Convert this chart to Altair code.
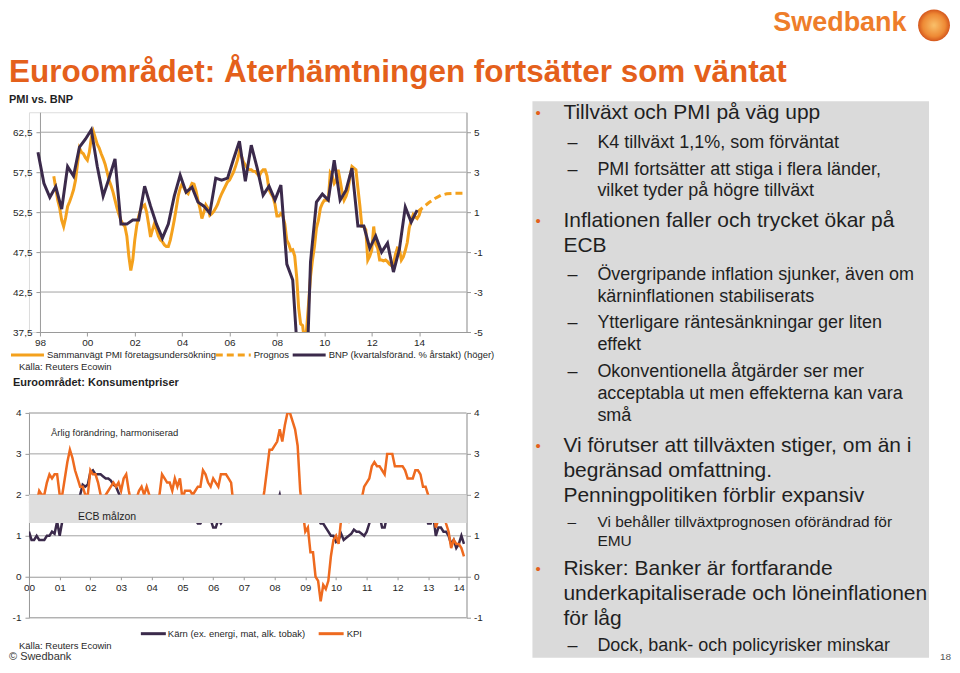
import altair as alt
import pandas as pd

FONT = "Liberation Sans"
TXT = "#1f1f1f"
AX = "#9a9a9a"
GRID = "#a3a3a3"
PMI_C = "#F4A11D"
BNP_C = "#3B2A4B"
KPI_C = "#EE6A1F"
CORE_C = "#3B2A4B"
BAND_C = "#DEDEDE"
TITLE_C = "#E4601B"
LOGO_C = "#EE7D2A"
PANEL_C = "#DADADA"

# ---------------- data: PMI vs BNP ----------------
# Composite PMI, monthly, Jul 1998 .. Jan 2014
pmi_1998 = [57.0, 55.5, 54.0, 53.0, 51.5, 50.7]
pmi_1999 = [51.8, 53.2, 53.8, 54.5, 55.3, 56.5, 58.5, 60.5, 60.0, 59.8, 59.3, 59.0]
pmi_2000 = [60.0, 61.8, 62.6, 61.8, 61.0, 60.5, 59.8, 59.2, 58.5, 57.5, 56.5, 55.8]
pmi_2001 = [55.0, 54.0, 53.0, 52.2, 51.5, 51.0, 50.7, 49.5, 47.0, 45.2, 46.5, 49.0]
pmi_2002 = [50.8, 52.0, 52.8, 53.2, 53.4, 52.5, 51.0, 49.4, 50.3, 51.1, 50.3, 49.5]
pmi_2003 = [49.0, 48.8, 48.4, 48.2, 48.2, 49.0, 50.2, 51.5, 53.0, 54.5, 55.5, 56.1]
pmi_2004 = [55.5, 55.0, 54.8, 55.5, 56.1, 56.0, 55.2, 54.0, 53.0, 51.7, 52.5, 53.4]
pmi_2005 = [53.0, 52.1, 52.3, 52.6, 53.0, 53.5, 54.2, 54.8, 55.3, 55.8, 56.3, 56.5]
pmi_2006 = [57.0, 57.5, 58.2, 59.0, 60.1, 59.5, 58.8, 58.4, 58.0, 57.8, 57.8, 57.6]
pmi_2007 = [57.6, 57.3, 57.0, 57.5, 57.8, 57.8, 57.0, 55.3, 54.8, 54.4, 53.5, 52.0]
pmi_2008 = [52.0, 52.3, 52.0, 51.0, 49.0, 48.5, 47.7, 47.8, 47.0, 44.4, 40.5, 38.5]
pmi_2009 = [38.3, 36.2, 37.8, 41.0, 44.4, 46.5, 48.2, 50.5, 51.5, 53.0, 53.6, 54.0]
pmi_2010 = [54.0, 54.0, 57.4, 57.0, 56.1, 56.5, 57.8, 56.5, 55.0, 54.0, 54.5, 55.3]
pmi_2011 = [57.0, 58.2, 58.0, 57.8, 55.5, 53.3, 50.7, 50.7, 50.3, 46.5, 47.0, 47.7]
pmi_2012 = [50.7, 48.5, 48.0, 46.5, 46.5, 46.4, 46.5, 46.3, 46.0, 45.8, 46.0, 47.2]
pmi_2013 = [48.0, 47.9, 46.5, 46.9, 47.7, 48.7, 50.5, 51.5, 52.2, 51.9, 51.7, 52.1]
pmi_2014 = [52.9]
pmi_values = (pmi_1998 + pmi_1999 + pmi_2000 + pmi_2001 + pmi_2002 + pmi_2003 +
              pmi_2004 + pmi_2005 + pmi_2006 + pmi_2007 + pmi_2008 + pmi_2009 +
              pmi_2010 + pmi_2011 + pmi_2012 + pmi_2013 + pmi_2014)

# Forecast (Prognos), quarterly from Q4 2013
prognos_times = [2013.917, 2014.167, 2014.417, 2014.667, 2014.917, 2015.167, 2015.417, 2015.667, 2016.0]
prognos_values = [52.5, 53.1, 53.7, 54.2, 54.6, 54.8, 54.85, 54.85, 54.85]

# BNP, q/q annualised %, quarterly 1997Q4 .. 2013Q4
bnp_values = [4.0,
              2.44, 1.74, 2.27, 1.15,
              3.28, 2.81, 4.25, 4.65,
              5.12, 3.3, 1.8, 2.7,
              3.66, 0.4, 0.4, 0.6,
              0.6, 2.3, 1.3, 0.4,
              -0.3, 0.4, 1.8, 2.85,
              2.0, 2.25, 1.5, 1.3,
              0.95, 2.7, 2.6, 2.7,
              3.65, 4.55, 2.55, 4.35,
              3.2, 1.85, 2.3, 1.6,
              2.35, -1.6, -2.4, -7.0,
              -10.5, -1.5, 1.5, 1.9,
              1.6, 3.6, 1.6, 2.1,
              3.2, 0.3, 0.3, -0.8,
              -0.2, -1.0, -0.55, -2.0,
              -0.85, 1.25, 0.5, 1.1]

# ---------------- data: consumer prices ----------------
kpi_values = [
    1.8, 1.9, 1.9, 1.8, 2.1, 2.0, 2.0, 2.3, 2.5, 2.4, 2.5, 2.5,   # 2000
    2.0, 2.0, 2.4, 2.8, 3.1, 2.9, 2.6, 2.4, 2.2, 2.2, 2.0, 2.0,   # 2001
    2.6, 2.5, 2.5, 2.3, 2.0, 1.8, 2.0, 2.1, 2.2, 2.3, 2.2, 2.3,   # 2002
    2.1, 2.4, 2.5, 2.1, 1.8, 1.9, 1.9, 2.1, 2.2, 2.0, 2.2, 2.0,   # 2003
    1.9, 1.6, 1.7, 2.0, 2.5, 2.4, 2.3, 2.3, 2.1, 2.4, 2.2, 2.4,   # 2004
    1.9, 2.1, 2.1, 2.1, 2.0, 2.1, 2.2, 2.2, 2.6, 2.5, 2.3, 2.2,   # 2005
    2.4, 2.3, 2.2, 2.5, 2.5, 2.5, 2.4, 2.3, 1.7, 1.6, 1.9, 1.9,   # 2006
    1.8, 1.8, 1.9, 1.9, 1.9, 1.9, 1.8, 1.7, 2.1, 2.6, 3.1, 3.1,   # 2007
    3.2, 3.3, 3.6, 3.3, 3.7, 4.0, 4.0, 3.8, 3.6, 3.2, 2.1, 1.6,   # 2008
    1.1, 1.2, 0.6, 0.6, 0.0, -0.1, -0.6, -0.2, -0.3, -0.1, 0.5, 0.9,  # 2009
    1.0, 0.8, 1.4, 1.5, 1.6, 1.4, 1.7, 1.6, 1.8, 1.9, 1.9, 2.2,   # 2010
    2.3, 2.4, 2.7, 2.8, 2.7, 2.7, 2.6, 2.5, 3.0, 3.0, 3.0, 2.7,   # 2011
    2.7, 2.7, 2.7, 2.6, 2.4, 2.4, 2.4, 2.6, 2.6, 2.5, 2.2, 2.2,   # 2012
    2.0, 1.8, 1.7, 1.2, 1.4, 1.6, 1.6, 1.3, 1.1, 0.7, 0.9, 0.8,   # 2013
    0.8, 0.7, 0.5]                                                # 2014
karn_values = [
    1.1, 0.9, 0.9, 1.0, 0.9, 0.9, 0.9, 1.0, 1.0, 1.1, 1.05, 1.35,  # 2000
    1.0, 1.35, 1.4, 1.5, 1.7, 1.8, 1.9, 1.9, 2.0, 2.25, 2.2, 2.25, # 2001
    2.55, 2.6, 2.5, 2.5, 2.5, 2.45, 2.4, 2.4, 2.35, 2.25, 2.2, 2.05,  # 2002
    1.9, 1.8, 1.8, 1.9, 1.7, 1.8, 1.8, 1.8, 1.8, 1.7, 1.7, 1.7,   # 2003
    1.7, 1.7, 1.8, 1.7, 1.8, 1.9, 1.9, 1.9, 1.8, 1.8, 1.8, 1.8,   # 2004
    1.6, 1.5, 1.6, 1.5, 1.5, 1.4, 1.3, 1.3, 1.4, 1.5, 1.5, 1.4,   # 2005
    1.2, 1.2, 1.4, 1.3, 1.4, 1.5, 1.5, 1.5, 1.5, 1.5, 1.6, 1.6,   # 2006
    1.8, 1.8, 1.9, 1.9, 1.9, 1.9, 1.9, 1.9, 1.9, 1.9, 1.9, 1.9,   # 2007
    1.8, 1.8, 2.0, 1.7, 1.8, 1.8, 1.7, 1.8, 1.8, 1.8, 1.8, 1.7,   # 2008
    1.5, 1.6, 1.5, 1.7, 1.5, 1.4, 1.3, 1.3, 1.2, 1.1, 1.0, 1.0,   # 2009
    0.85, 0.9, 1.05, 0.9, 0.95, 1.0, 1.05, 1.15, 1.1, 1.1, 1.05, 1.0,  # 2010
    1.1, 1.3, 1.5, 1.6, 1.5, 1.5, 1.2, 1.2, 1.5, 1.6, 1.6, 1.6,   # 2011
    1.5, 1.5, 1.6, 1.6, 1.6, 1.6, 1.7, 1.7, 1.5, 1.5, 1.4, 1.5,   # 2012
    1.3, 1.3, 1.5, 1.0, 1.2, 1.2, 1.1, 1.1, 1.0, 0.8, 0.9, 0.7,   # 2013
    0.8, 1.0, 0.8]                                                # 2014
ecb_band = [1.31, 2.0]

pmi_ticks = [37.5, 42.5, 47.5, 52.5, 57.5, 62.5]
bnp_ticks = [-5, -3, -1, 1, 3, 5]
kpi_ticks = [-1, 0, 1, 2, 3, 4]


def monthly(start_year, start_month, values, shift):
    rows = []
    y, m = start_year, start_month
    for v in values:
        rows.append({"t": y + (m - 1 + shift) / 12.0, "v": v})
        m += 1
        if m > 12:
            m, y = 1, y + 1
    return pd.DataFrame(rows)


pmi_df = monthly(1998, 7, pmi_values, 1.0)
prog_df = pd.DataFrame({"t": prognos_times, "v": prognos_values})
bnp_rows = []
yy, qq = 1997, 4
for v in bnp_values:
    bnp_rows.append({"t": yy + (3 * qq - 1) / 12.0, "v": v})
    qq += 1
    if qq > 4:
        qq, yy = 1, yy + 1
bnp_df = pd.DataFrame(bnp_rows)
kpi_df = monthly(2000, 1, kpi_values, 0.0)
karn_df = monthly(2000, 1, karn_values, 0.0)

ONE = pd.DataFrame({"a": [0]})


def txt(text, x, y, size, color=TXT, weight="normal", align="left", baseline="middle"):
    return alt.Chart(ONE).mark_text(
        text=text, align=align, baseline=baseline, fontSize=size,
        fontWeight=weight, color=color, font=FONT
    ).encode(x=alt.value(x), y=alt.value(y))


def hline(x1, x2, y, color, width=3, dash=None):
    kw = dict(color=color, strokeWidth=width)
    if dash:
        kw["strokeDash"] = dash
    return alt.Chart(ONE).mark_rule(**kw).encode(
        x=alt.value(x1), x2=alt.value(x2), y=alt.value(y))


def box(x1, x2, y1, y2, color):
    return alt.Chart(ONE).mark_rect(color=color).encode(
        x=alt.value(x1), x2=alt.value(x2), y=alt.value(y1), y2=alt.value(y2))


axis_common = dict(title=None, grid=False, domainColor=AX, tickColor=AX,
                   labelFontSize=10, labelColor=TXT, labelFont=FONT,
                   labelFlush=False, labelOverlap=False)

# ---------------- chart 1 ----------------
W1, H1 = 438, 220
O1x, O1y = 28, 112  # page position of chart 1 plot origin
xs1 = alt.Scale(domain=[1998, 2016], range=[11, 438], nice=False, zero=False)
ys1 = alt.Scale(domain=[37.5, 65], nice=False, zero=False)
ys1r = alt.Scale(domain=[-5, 6], nice=False, zero=False)

x_axis1 = alt.Axis(values=list(range(1998, 2015, 2)), labelExpr="slice('' + datum.value, 2)",
                   tickSize=4, labelPadding=2, **axis_common)
y_axis1 = alt.Axis(values=pmi_ticks, labelExpr="replace(format(datum.value, '.1f'), '.', ',')",
                   orient="left", offset=-11, tickSize=4, labelPadding=4, **axis_common)
y_axis1r = alt.Axis(values=bnp_ticks, labelExpr="'' + datum.value", orient="right",
                    tickSize=4, labelPadding=3, **axis_common)

grid1 = pd.DataFrame({"v": pmi_ticks[1:], "t0": 1998, "t1": 2016})
g1 = alt.Chart(grid1).mark_rule(color=GRID, strokeWidth=1).encode(
    y=alt.Y("v:Q", scale=ys1, axis=y_axis1),
    x=alt.X("t0:Q", scale=xs1, axis=x_axis1), x2="t1:Q")
pmi_line = alt.Chart(pmi_df).mark_line(color=PMI_C, strokeWidth=3, clip=True).encode(
    x=alt.X("t:Q", scale=xs1, axis=x_axis1),
    y=alt.Y("v:Q", scale=ys1, axis=y_axis1))
prog_line = alt.Chart(prog_df).mark_line(color=PMI_C, strokeWidth=3, strokeDash=[7, 4], clip=True).encode(
    x=alt.X("t:Q", scale=xs1, axis=x_axis1),
    y=alt.Y("v:Q", scale=ys1, axis=y_axis1))
left1 = alt.layer(g1, pmi_line, prog_line)
bnp_line = alt.Chart(bnp_df).mark_line(color=BNP_C, strokeWidth=3, clip=True).encode(
    x=alt.X("t:Q", scale=xs1, axis=x_axis1),
    y=alt.Y("v:Q", scale=ys1r, axis=y_axis1r))


def p1(px, py):
    return px - O1x, py - O1y


ann1 = []
# slide title & logo
ann1.append(txt("Euroområdet: Återhämtningen fortsätter som väntat", *p1(8, 82), 31.5,
                color=TITLE_C, weight="bold", baseline="alphabetic"))
ann1.append(alt.Chart(ONE).mark_point(
    filled=True, shape="circle", size=1018, opacity=1,
    fill={"gradient": "radial", "stops": [{"offset": 0, "color": "#F9C06A"},
                                          {"offset": 0.7, "color": "#EE8A35"},
                                          {"offset": 1, "color": "#D4561C"}]},
    strokeWidth=0).encode(x=alt.value(p1(934, 25)[0]), y=alt.value(p1(934, 25)[1])))
ann1.append(txt("Swedbank", *p1(773, 23), 27, color=LOGO_C, weight="bold"))
ann1.append(txt("PMI vs. BNP", *p1(8, 100), 11, weight="bold"))
# legend
ly = 355
ann1.append(hline(p1(10, ly)[0], p1(43, ly)[0], p1(0, ly)[1], PMI_C))
ann1.append(txt("Sammanvägt PMI företagsundersökning", *p1(46, ly), 9.5))
ann1.append(hline(p1(215, ly)[0], p1(250, ly)[0], p1(0, ly)[1], PMI_C, dash=[7, 4]))
ann1.append(txt("Prognos", *p1(253, ly), 9.5))
ann1.append(hline(p1(292, ly)[0], p1(325, ly)[0], p1(0, ly)[1], BNP_C))
ann1.append(txt("BNP (kvartalsföränd. % årstakt) (höger)", *p1(328, ly), 9.5))
ann1.append(txt("Källa: Reuters Ecowin", *p1(18, 367), 9.5))

# right text panel
ann1.append(box(p1(532, 0)[0], p1(929, 0)[0], p1(0, 101)[1], p1(0, 658)[1], PANEL_C))
MAIN, SUB, SMALL = 21, 18, 15.5
panel = [
    ("b", "Tillväxt och PMI på väg upp", 113),
    ("d", "K4 tillväxt 1,1%, som förväntat", 143),
    ("d", "PMI fortsätter att stiga i flera länder,", 170),
    ("s", "vilket tyder på högre tillväxt", 191),
    ("b", "Inflationen faller och trycket ökar på", 221),
    ("m", "ECB", 246),
    ("d", "Övergripande inflation sjunker, även om", 275),
    ("s", "kärninflationen stabiliserats", 297),
    ("d", "Ytterligare räntesänkningar ger liten", 323),
    ("s", "effekt", 345),
    ("d", "Okonventionella åtgärder ser mer", 372),
    ("s", "acceptabla ut men effekterna kan vara", 394),
    ("s", "små", 416),
    ("b", "Vi förutser att tillväxten stiger, om än i", 446),
    ("m", "begränsad omfattning.", 471),
    ("m", "Penningpolitiken förblir expansiv", 496),
    ("e", "Vi behåller tillväxtprognosen oförändrad för", 522),
    ("f", "EMU", 541),
    ("b", "Risker: Banker är fortfarande", 569),
    ("m", "underkapitaliserade och löneinflationen", 594),
    ("m", "för låg", 619),
    ("d", "Dock, bank- och policyrisker minskar", 646),
]
for kind, text, py in panel:
    if kind in ("b", "m"):
        ann1.append(txt(text, *p1(563, py), MAIN))
        if kind == "b":
            ann1.append(txt("•", *p1(535, py), 15, color=TITLE_C))
    elif kind in ("d", "s"):
        ann1.append(txt(text, *p1(597, py), SUB))
        if kind == "d":
            ann1.append(txt("–", *p1(567, py), SUB))
    else:
        ann1.append(txt(text, *p1(597, py), SMALL))
        if kind == "e":
            ann1.append(txt("–", *p1(567, py), SMALL))

chart1 = alt.layer(left1, bnp_line, *ann1).resolve_scale(y="independent").properties(
    width=W1, height=H1)

# ---------------- chart 2 ----------------
W2, H2 = 438, 205
O2x, O2y = 28, 413
xs2 = alt.Scale(domain=[2000, 2014.25], nice=False, zero=False)
ys2 = alt.Scale(domain=[-1, 4], nice=False, zero=False)

x_axis2 = alt.Axis(values=list(range(2000, 2015)), labelExpr="slice('' + datum.value, 2)",
                   offset=-41, tickSize=3, labelPadding=3, **axis_common)
y_axis2 = alt.Axis(values=kpi_ticks, labelExpr="'' + datum.value", orient="left",
                   tickSize=4, labelPadding=4, **axis_common)
y_axis2r = alt.Axis(values=kpi_ticks, labelExpr="'' + datum.value", orient="right",
                    tickSize=4, labelPadding=3, **axis_common)

grid2 = pd.DataFrame({"v": [-1, 1, 2, 3, 4], "t0": 2000, "t1": 2014.25})
g2 = alt.Chart(grid2).mark_rule(color=GRID, strokeWidth=1).encode(
    y=alt.Y("v:Q", scale=ys2, axis=y_axis2),
    x=alt.X("t0:Q", scale=xs2, axis=x_axis2), x2="t1:Q")
karn_line = alt.Chart(karn_df).mark_line(color=CORE_C, strokeWidth=2.5, clip=True).encode(
    x=alt.X("t:Q", scale=xs2, axis=x_axis2),
    y=alt.Y("v:Q", scale=ys2, axis=y_axis2))
kpi_line = alt.Chart(kpi_df).mark_line(color=KPI_C, strokeWidth=2.5, clip=True).encode(
    x=alt.X("t:Q", scale=xs2, axis=x_axis2),
    y=alt.Y("v:Q", scale=ys2, axis=y_axis2))
band_df = pd.DataFrame({"lo": [ecb_band[0]], "hi": [ecb_band[1]], "t0": [2000], "t1": [2014.25]})
band = alt.Chart(band_df).mark_rect(color=BAND_C).encode(
    x=alt.X("t0:Q", scale=xs2, axis=x_axis2), x2="t1:Q",
    y=alt.Y("lo:Q", scale=ys2, axis=y_axis2), y2="hi:Q")
left2 = alt.layer(g2, karn_line, kpi_line, band)
right2 = alt.Chart(grid2).mark_rule(opacity=0).encode(
    y=alt.Y("v:Q", scale=ys2, axis=y_axis2r))


def p2(px, py):
    return px - O2x, py - O2y


ann2 = [
    txt("Euroområdet: Konsumentpriser", *p2(12, 383), 11, weight="bold"),
    txt("Årlig förändring, harmoniserad", *p2(50, 433), 9.5),
    txt("ECB målzon", *p2(77, 517), 10.5),
    hline(p2(140, 0)[0], p2(165, 0)[0], p2(0, 634)[1], CORE_C),
    txt("Kärn (ex. energi, mat, alk. tobak)", *p2(167, 634), 9.5),
    hline(p2(318, 0)[0], p2(343, 0)[0], p2(0, 634)[1], KPI_C),
    txt("KPI", *p2(346, 634), 9.5),
    txt("Källa: Reuters Ecowin", *p2(18, 646), 9.5),
    txt("© Swedbank", *p2(8, 657), 11, color="#333333"),
    txt("18", *p2(940, 657), 10, color="#555555"),
]

chart2 = alt.layer(left2, right2, *ann2).resolve_scale(y="independent").properties(
    width=W2, height=H2)

chart = alt.vconcat(chart1, chart2, spacing=81, bounds="flush").properties(
    padding=0
).configure_view(stroke=None).configure(font=FONT)

chart.save("out.html", embed_options={"renderer": "svg", "actions": False})
